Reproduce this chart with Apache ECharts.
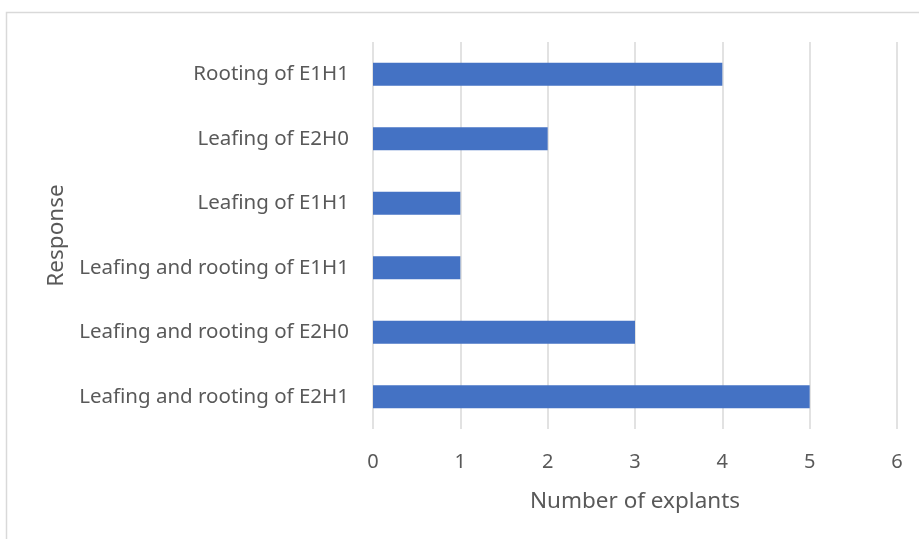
<!DOCTYPE html>
<html>
<head>
<meta charset="utf-8">
<script src="https://cdn.jsdelivr.net/npm/echarts@6/dist/echarts.min.js"></script>
<style>
html,body{margin:0;padding:0;background:#fff;}
#chart{width:919px;height:539px;}
</style>
</head>
<body>
<div id="chart"></div>
<script>
// Responses, listed bottom to top as drawn on the category axis
const responses = [
  'Leafing and rooting of E2H1',
  'Leafing and rooting of E2H0',
  'Leafing and rooting of E1H1',
  'Leafing of E1H1',
  'Leafing of E2H0',
  'Rooting of E1H1'
];
const explantCounts = [5, 3, 1, 1, 2, 4];
const countTicks = [0, 1, 2, 3, 4, 5, 6];

const FONT = 'Noto Sans';
const TEXT = '#595959';

const chart = echarts.init(document.getElementById('chart'));
chart.setOption({
  animation: false,
  backgroundColor: '#fff',
  graphic: [{
    type: 'rect',
    shape: { x: 6.5, y: 12.5, width: 930, height: 560 },
    style: { fill: 'none', stroke: '#d9d9d9', lineWidth: 1.5 },
    silent: true
  }],
  grid: { left: 373, right: 22, top: 42, bottom: 110 },
  xAxis: {
    type: 'value',
    min: countTicks[0],
    max: countTicks[countTicks.length - 1],
    interval: 1,
    name: 'Number of explants',
    nameLocation: 'middle',
    nameGap: 61,
    nameTextStyle: { fontFamily: FONT, fontSize: 22.5, color: TEXT },
    axisLine: { show: false },
    axisTick: { show: false },
    axisLabel: { fontFamily: FONT, fontSize: 20, color: TEXT, margin: 23 },
    splitLine: { show: true, lineStyle: { color: '#d9d9d9', width: 1.5 } }
  },
  yAxis: {
    type: 'category',
    data: responses,
    name: 'Response',
    nameLocation: 'middle',
    nameGap: 303,
    nameRotate: 90,
    nameTextStyle: { fontFamily: FONT, fontSize: 22.5, color: TEXT },
    axisLine: { show: false },
    axisTick: { show: false },
    axisLabel: { fontFamily: FONT, fontSize: 20.5, color: TEXT, margin: 24 }
  },
  series: [{
    type: 'bar',
    data: explantCounts,
    barWidth: 23,
    itemStyle: { color: '#4472C4' }
  }]
});
</script>
</body>
</html>
